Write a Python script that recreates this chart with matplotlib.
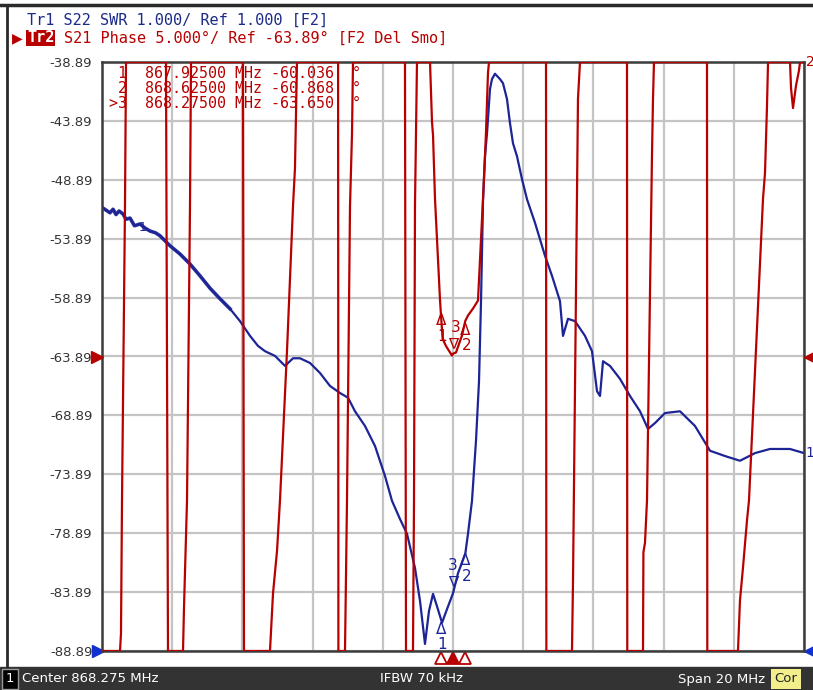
import numpy as np
import matplotlib.pyplot as plt
import matplotlib.transforms as mtransforms
from matplotlib.lines import Line2D
from matplotlib.patches import Rectangle

# Ejes: centro 868.275 MHz, span 20 MHz
f_center = 868.275
span = 20.0
ph_ref = -63.89     # Ref fase [deg]
ph_div = 5.0        # deg/div
swr_ref = 1.0
swr_div = 1.0

# Tr1: S22 SWR
swr_f = [858.303, 858.503, 858.590, 858.674, 858.760, 858.873, 858.960, 859.073, 859.200, 859.358,
         859.500, 859.643, 859.800, 859.927, 860.212, 860.497, 860.782, 861.067, 861.352, 861.637,
         861.922, 862.207, 862.492, 862.719, 862.919, 863.204, 863.489, 863.717, 863.916, 864.201,
         864.486, 864.771, 865.056, 865.284, 865.483, 865.768, 866.053, 866.338, 866.537, 866.765,
         866.964, 867.192, 867.335, 867.477, 867.591, 867.706, 867.819, 867.962, 868.104, 868.275,
         868.417, 868.625, 868.702, 868.816, 868.930, 869.016, 869.073, 869.130, 869.187, 869.244,
         869.329, 869.386, 869.471, 869.613, 869.699, 869.813, 869.899, 869.984, 870.098, 870.241,
         870.383, 870.611, 870.896, 871.095, 871.323, 871.409, 871.551, 871.751, 872.036, 872.235,
         872.378, 872.463, 872.549, 872.748, 873.033, 873.318, 873.603, 873.831, 874.030, 874.315,
         874.742, 875.170, 875.597, 876.024, 876.451, 876.879, 877.306, 877.876, 878.275]
swr_v = [8.52, 8.44, 8.50, 8.41, 8.47, 8.42, 8.33, 8.35, 8.22, 8.25,
         8.18, 8.13, 8.10, 8.05, 7.88, 7.74, 7.57, 7.37, 7.16, 6.98,
         6.81, 6.60, 6.35, 6.18, 6.09, 6.01, 5.84, 5.97, 5.97, 5.89,
         5.72, 5.50, 5.38, 5.30, 5.07, 4.82, 4.48, 3.97, 3.55, 3.24,
         2.99, 2.41, 1.85, 1.12, 1.68, 1.97, 1.76, 1.48, 1.71, 1.98,
         2.32, 2.65, 2.99, 3.55, 4.57, 5.58, 6.94, 8.64, 9.40, 9.79,
         10.54, 10.71, 10.80, 10.71, 10.64, 10.37, 9.96, 9.62, 9.40, 9.01,
         8.67, 8.27, 7.71, 7.37, 6.94, 6.35, 6.64, 6.60, 6.35, 6.09,
         5.41, 5.33, 5.92, 5.84, 5.62, 5.33, 5.07, 4.77, 4.87, 5.04,
         5.07, 4.82, 4.40, 4.31, 4.23, 4.36, 4.43, 4.43, 4.36]
n_ruido = 21   # tramo inicial ruidoso (se dibuja mas grueso)

# Tr2: S21 fase (fuera de escala se recorta al borde)
ph_f = [858.275, 858.788, 858.816, 858.845, 858.930, 858.959, 860.098, 860.155,
        860.583, 860.611, 860.697, 860.782, 860.811, 862.292, 862.320,
        863.061, 863.147, 863.261, 863.346, 863.546, 863.717, 863.773, 863.830, 865.001, 865.010,
        865.198, 865.255, 865.341, 865.398, 865.426, 866.907, 866.936,
        867.135, 867.164, 867.192, 867.249, 867.620, 867.677, 867.706, 867.762, 867.905,
        867.925, 867.980, 868.075, 868.246, 868.275, 868.360, 868.531, 868.625, 868.702,
        868.845, 868.987, 869.130, 869.187, 869.215, 869.272, 869.301, 870.925, 870.935,
        871.665, 871.694, 871.808, 871.836, 871.893, 873.232, 873.240,
        873.688, 873.700, 873.745, 873.802, 873.944, 873.973, 874.001, 875.511, 875.520,
        876.394, 876.451, 876.537, 876.651, 876.708, 877.107, 877.164, 877.221, 877.250,
        877.877, 877.905, 877.962, 878.047, 878.133, 878.161, 878.275]
ph_v = [-180, -88.9, -87.4, -76.1, -51.1, -38.9, 180, -180,
        -88.9, -85.2, -76.1, -51.1, -38.9, 180, -180,
        -88.9, -84.0, -80.4, -76.1, -63.4, -51.1, -47.9, -38.9, 180, -180,
        -88.9, -76.1, -51.1, -44.9, -38.9, 180, -180,
        -88.9, -76.1, -51.1, -38.9, -38.9, -44.0, -45.1, -50.5, -59.1,
        -60.036, -62.4, -63.0, -63.81, -63.650, -63.55, -62.11, -60.868, -60.41,
        -59.82, -59.14, -50.48, -46.83, -44.87, -39.78, -38.9, 180, -180,
        -88.9, -82.9, -50.0, -42.0, -38.9, 180, -180,
        -88.9, -80.5, -79.7, -76.1, -46.8, -42.0, -38.9, 180, -180,
        -88.9, -84.6, -81.8, -77.8, -76.1, -50.5, -48.3, -42.6, -38.9,
        -38.9, -41.1, -42.8, -40.9, -39.6, -38.9, -38.9]

# Marcadores
mk_f = [867.925, 868.625, 868.275]
mk_ph = [-60.036, -60.868, -63.650]
mk_swr = [1.48, 2.65, 1.98]
mk_lbl = ["1", "2", "3"]

ROJO = '#b80000'
AZUL = '#1c2496'
GRIS = '#3c3c3c'

W, H = 813, 690
fig = plt.figure(figsize=(W / 100, H / 100), dpi=100)
fig.patch.set_facecolor('white')

x0, y0, x1, y1 = 102, 62, 804, 651
ax = fig.add_axes([x0 / W, 1 - y1 / H, (x1 - x0) / W, (y1 - y0) / H])
ax2 = ax.twinx()

xmin, xmax = f_center - span / 2, f_center + span / 2
ph_lo, ph_hi = ph_ref - 5 * ph_div, ph_ref + 5 * ph_div
ax.set_xlim(xmin, xmax)
ax.set_ylim(swr_ref, swr_ref + 10 * swr_div)
ax2.set_ylim(ph_lo, ph_hi)

ax.set_xticks(np.arange(xmin, xmax + 0.01, 2.0))
ax.set_yticks(np.arange(swr_ref, swr_ref + 10.01, swr_div))
ax.grid(True, color='#c4c4c4', lw=1.6)
ax.tick_params(length=0, labelleft=False, labelbottom=False)
for s in ax.spines.values():
    s.set_color(GRIS)
    s.set_linewidth(1.8)
for s in ax2.spines.values():
    s.set_visible(False)

yt = np.arange(ph_hi, ph_lo - 0.01, -ph_div)
ax2.set_yticks(yt)
ax2.set_yticklabels([f"{v:.2f}" for v in yt])
ax2.yaxis.set_ticks_position('left')
ax2.yaxis.set_label_position('left')
ax2.tick_params(length=0, pad=7, labelsize=9.5, labelcolor='#333333')

# trazas
ax.plot(swr_f, swr_v, color=AZUL, lw=1.6)
ax.plot(swr_f[:n_ruido], swr_v[:n_ruido], color=AZUL, lw=2.6, alpha=0.9)
ax2.plot(ph_f, np.clip(ph_v, ph_lo, ph_hi), color=ROJO, lw=1.6)

# simbolos de marcador sobre las trazas
mk_kw = dict(ha='center', va='center', fontsize=11, family='DejaVu Sans')
for f, p, s, l in zip(mk_f, mk_ph, mk_swr, mk_lbl):
    if l == "3":
        ax2.annotate("∇", (f, p), xytext=(0, 7), textcoords='offset points', color=ROJO, **mk_kw)
        ax2.annotate(l, (f, p), xytext=(2, 19), textcoords='offset points', color=ROJO, **mk_kw)
        ax.annotate("∇", (f, s), xytext=(0, 8), textcoords='offset points', color=AZUL, **mk_kw)
        ax.annotate(l, (f, s), xytext=(0, 20), textcoords='offset points', color=AZUL, **mk_kw)
    else:
        ax2.annotate("Δ", (f, p), xytext=(0, -7), textcoords='offset points', color=ROJO, **mk_kw)
        ax2.annotate(l, (f, p), xytext=(1, -18), textcoords='offset points', color=ROJO, **mk_kw)
        ax.annotate("Δ", (f, s), xytext=(0, -5), textcoords='offset points', color=AZUL, **mk_kw)
        ax.annotate(l, (f, s), xytext=(1, -16), textcoords='offset points', color=AZUL, **mk_kw)

# triangulos de marcador bajo el eje
tr_b = mtransforms.blended_transform_factory(ax.transData, ax.transAxes)
for f, l in zip(mk_f, mk_lbl):
    ax.plot([f], [-0.012], marker='^', ms=9, mec=ROJO, mew=1.3,
            mfc=ROJO if l == "3" else 'white', transform=tr_b, clip_on=False)

# referencias a izquierda y derecha
tr_p = mtransforms.blended_transform_factory(ax2.transAxes, ax2.transData)
ax2.plot([-0.007], [ph_ref], marker='>', ms=8.5, color=ROJO, clip_on=False, transform=tr_p)
ax2.plot([1.009], [ph_ref], marker='<', ms=8.5, color=ROJO, clip_on=False, transform=tr_p)
tr_s = mtransforms.blended_transform_factory(ax.transAxes, ax.transData)
ax.plot([-0.006], [swr_ref], marker='>', ms=8.5, color='#1030d0', clip_on=False, transform=tr_s)
ax.plot([1.009], [swr_ref], marker='<', ms=8.5, color='#1030d0', clip_on=False, transform=tr_s)

# etiquetas de traza
ax.text(1.0025, swr_v[-1], "1", transform=tr_s, color=AZUL, fontsize=10, va='center', ha='left')
ax.annotate("1", (swr_f[8], swr_v[8]), xytext=(3, -1), textcoords='offset points',
            color=AZUL, fontsize=9, va='center')
ax2.text(1.0025, ph_hi, "2", transform=tr_p, color=ROJO, fontsize=10, va='center', ha='left')

# tabla de marcadores
tabla = [" 1  867.92500 MHz -60.036  °",
         " 2  868.62500 MHz -60.868  °",
         ">3  868.27500 MHz -63.650  °"]
for i, t in enumerate(tabla):
    fig.text(109 / W, 1 - (73 + 15.5 * i) / H, t, color=ROJO, fontsize=10.8,
             family='DejaVu Sans Mono', va='center', ha='left')

# encabezado
fig.text(27 / W, 1 - 20 / H, "Tr1 S22 SWR 1.000/ Ref 1.000 [F2]", color='#1c2a88',
         fontsize=11, family='DejaVu Sans Mono', va='center')
fig.text(27 / W, 1 - 38 / H, "Tr2", color='white', fontsize=11, family='DejaVu Sans Mono',
         va='center', fontweight='bold',
         bbox=dict(boxstyle='square,pad=0.05', fc=ROJO, ec='none'))
fig.text(64 / W, 1 - 38 / H, "S21 Phase 5.000°/ Ref -63.89° [F2 Del Smo]", color=ROJO,
         fontsize=11, family='DejaVu Sans Mono', va='center')
fig.text(12 / W, 1 - 38 / H, "▶", color=ROJO, fontsize=10, family='DejaVu Sans', va='center')

# marco de ventana
fig.add_artist(Line2D([0, 1], [1 - 5 / H, 1 - 5 / H], color='#2a2a2a', lw=2.5))
fig.add_artist(Line2D([7 / W, 7 / W], [22 / H, 1 - 5 / H], color='#2a2a2a', lw=2))

# barra de estado
fig.add_artist(Rectangle((0, 0), 1, 23 / H, color='#333333', transform=fig.transFigure))
fig.text(10 / W, 11 / H, "1", color='white', fontsize=9.5, ha='center', va='center',
         bbox=dict(boxstyle='square,pad=0.25', fc='black', ec='#999999', lw=1))
fig.text(22 / W, 11 / H, "Center 868.275 MHz", color='white', fontsize=9.5, va='center')
fig.text(421 / W, 11 / H, "IFBW 70 kHz", color='white', fontsize=9.5, va='center', ha='center')
fig.text(765 / W, 11 / H, "Span 20 MHz", color='white', fontsize=9.5, va='center', ha='right')
fig.text(786 / W, 11 / H, "Cor", color='#222222', fontsize=9.5, va='center', ha='center',
         bbox=dict(boxstyle='square,pad=0.3', fc='#f3ee8c', ec='none'))

fig.savefig('out.png', dpi=100)
